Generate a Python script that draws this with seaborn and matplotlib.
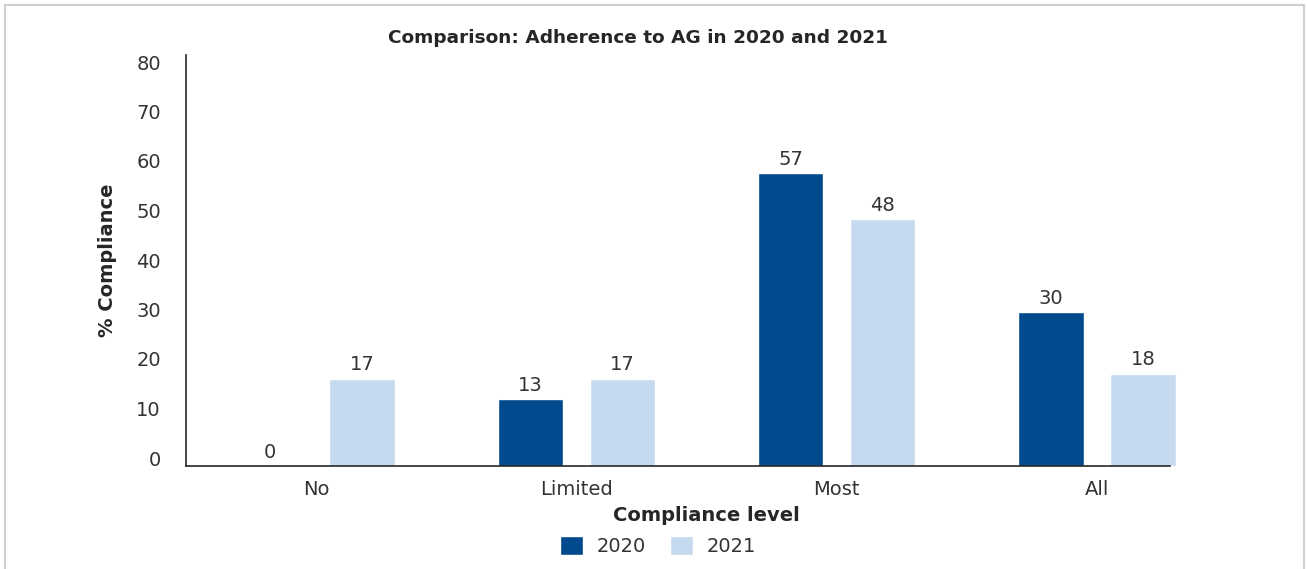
import matplotlib
matplotlib.use("Agg")
import matplotlib.pyplot as plt
from matplotlib.patches import Rectangle
from matplotlib.transforms import ScaledTranslation
import seaborn as sns
import pandas as pd

# Compliance levels and percentages per year
levels = ["No", "Limited", "Most", "All"]
years = ["2020", "2021"]
values_2020 = [0, 13, 57, 30]
values_2021 = [17, 17, 48, 18]
y_ticks = [0, 10, 20, 30, 40, 50, 60, 70, 80]

colors = {"2020": "#004A8D", "2021": "#C6DAEF"}
text_color = "#333333"
dark = "#262626"

df = pd.DataFrame({
    "level": levels * 2,
    "year": [years[0]] * len(levels) + [years[1]] * len(levels),
    "value": values_2020 + values_2021,
})

sns.set_theme(style="white")
plt.rcParams["font.family"] = ["DejaVu Sans"]

fig = plt.figure(figsize=(13.07, 5.69), dpi=100)
ax = fig.add_axes([186 / 1307, 103 / 569, 1041 / 1307, 411 / 569])

sns.barplot(data=df, x="level", y="value", hue="year", order=levels,
            hue_order=years, palette=colors, width=0.708, gap=0.29,
            saturation=1, ax=ax, legend=True)

for container in ax.containers:
    ax.bar_label(container, fmt="%.0f", padding=3, fontsize=14,
                 color=text_color)

ax.set_ylim(0, 80)
ax.set_xlim(-0.5, 3.5)
ax.set_yticks(y_ticks)
ax.tick_params(axis="y", labelsize=14, colors=text_color, length=0, pad=18)
ax.tick_params(axis="x", labelsize=14, colors=text_color, length=0, pad=10)

# value labels on the y axis sit on a slightly tighter spacing than the grid
for lbl, v in zip(ax.get_yticklabels(), y_ticks):
    shift_px = -8 + 0.1875 * v
    lbl.set_transform(lbl.get_transform()
                      + ScaledTranslation(0, -shift_px / 100, fig.dpi_scale_trans))

for side in ["top", "right"]:
    ax.spines[side].set_visible(False)
for side in ["left", "bottom"]:
    ax.spines[side].set_color(dark)
    ax.spines[side].set_linewidth(1.2)
ax.spines["bottom"].set_bounds(-0.5, 3.28)

ax.set_xlabel("Compliance level", fontsize=14, fontweight="bold",
              color=dark, labelpad=5)
ax.set_ylabel("% Compliance", fontsize=14, fontweight="bold", color=dark)
ax.yaxis.set_label_coords(-0.066, 0.5)

fig.text(638 / 1307, 1 - 38 / 569,
         "Comparison: Adherence to AG in 2020 and 2021",
         ha="center", va="center", fontsize=13.3, fontweight="bold",
         color=dark)

leg = ax.legend(loc="center", bbox_to_anchor=(658 / 1307, 1 - 546 / 569),
                bbox_transform=fig.transFigure, ncol=2, frameon=False,
                fontsize=14, handlelength=1.18, handleheight=1.18,
                columnspacing=1.24, handletextpad=0.7, borderpad=0)
for t in leg.get_texts():
    t.set_color(text_color)

# light outer frame around the chart area
fig.add_artist(Rectangle((5 / 1307, -0.05), 1299 / 1307, 1.05 - 5 / 569,
                         transform=fig.transFigure, fill=False,
                         edgecolor="#CFCFCF", linewidth=1.5))

fig.savefig("out.png", dpi=100, facecolor="white")
